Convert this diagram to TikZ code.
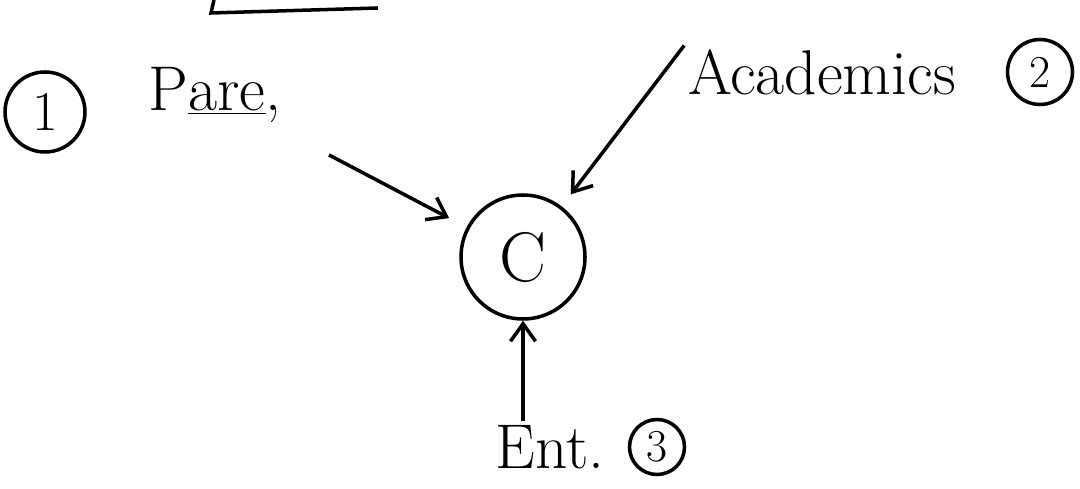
\documentclass[tikz,border=0pt]{standalone}
\usepackage{fontspec}
\usetikzlibrary{arrows.meta,positioning,calc}

\begin{document}
\begin{tikzpicture}[node distance=2.5cm,
    word/.style={font=\fontsize{36}{40}\selectfont, inner sep=2pt},
    num/.style={circle, draw, line width=2pt, font=\fontsize{26}{30}\selectfont, inner sep=0pt},
    hub/.style={circle, draw, line width=2pt, minimum size=2.48cm, font=\fontsize{40}{44}\selectfont},
    link/.style={-{Straight Barb[length=3.5mm, width=5mm]}, line width=2pt}]
    \useasboundingbox (0,0) rectangle (21.6,9.76);

    \node[hub] (c) at (10.46,4.62) {C};

    \node[word, left of=c, xshift=-3.66cm, yshift=3.24cm] (par) {P\underline{are},};
    \node[num, left of=par, xshift=-0.9cm, yshift=-0.34cm, minimum size=1.6cm, font=\fontsize{32}{36}\selectfont] (n1) {1};

    \node[word, right of=c, xshift=3.48cm, yshift=3.7cm] (aca) {Academics};
    \node[num, right of=aca, xshift=1.86cm, minimum size=1.3cm] (n2) {2};

    \node[word, below of=c, xshift=0.54cm, yshift=-1.3cm] (ent) {Ent.};
    \node[num, right of=ent, xshift=-0.36cm, minimum size=1.1cm] (n3) {3};

    \draw[link] ($(par)!0.37!(c)$) -- ($(par)!0.76!(c)$);
    \draw[link, shorten >=0.3cm] (aca.north west) -- (c);
    \draw[link] (ent.north -| c) -- (c);

    \draw[line width=2pt] (4.28,9.76) -- (4.22,9.5) -- (7.56,9.6);
\end{tikzpicture}
\end{document}
